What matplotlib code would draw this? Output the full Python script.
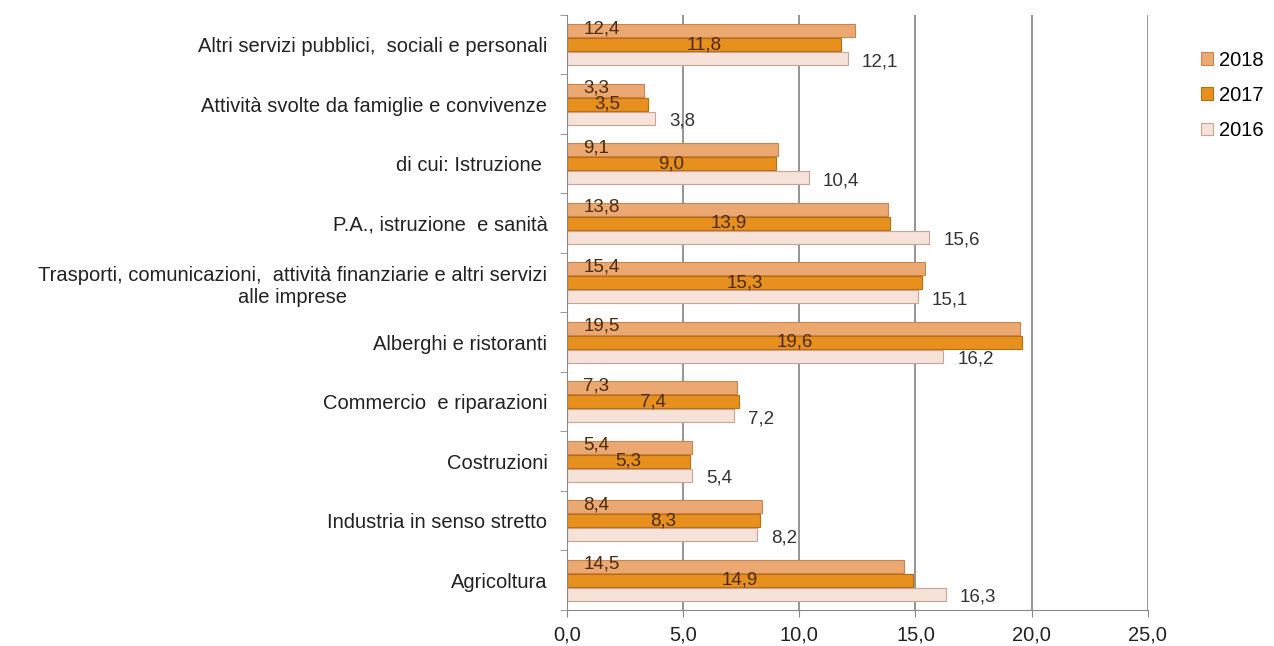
import matplotlib.pyplot as plt
import numpy as np

# settori, dall'alto verso il basso come nel grafico
settori = ['Altri servizi pubblici,  sociali e personali',
           'Attività svolte da famiglie e convivenze',
           'di cui: Istruzione ',
           'P.A., istruzione  e sanità',
           'Trasporti, comunicazioni,  attività finanziarie e altri servizi\nalle imprese',
           'Alberghi e ristoranti',
           'Commercio  e riparazioni',
           'Costruzioni',
           'Industria in senso stretto',
           'Agricoltura']
v2018 = [12.4, 3.3, 9.1, 13.8, 15.4, 19.5, 7.3, 5.4, 8.4, 14.5]
v2017 = [11.8, 3.5, 9.0, 13.9, 15.3, 19.6, 7.4, 5.3, 8.3, 14.9]
v2016 = [12.1, 3.8, 10.4, 15.6, 15.1, 16.2, 7.2, 5.4, 8.2, 16.3]
xticks = [0, 5, 10, 15, 20, 25]

def fmt(v):
    return ('%.1f' % v).replace('.', ',')

plt.rcParams['font.family'] = ['Liberation Sans', 'DejaVu Sans']
FS = 14.5
FL = 13.5   # etichette dati

fig = plt.figure(figsize=(12.74, 6.46), dpi=100)
ax = fig.add_axes([0.445, 0.056, 0.456, 0.921])

n = len(settori)
y = np.arange(n)[::-1]   # Agricoltura in basso
h = 0.22
off = 0.235

b18 = ax.barh(y + off, v2018, height=h, color='#EBA871', edgecolor='#C98550', linewidth=0.8, label='2018')
b17 = ax.barh(y, v2017, height=h, color='#E8901E', edgecolor='#B86D12', linewidth=0.8, label='2017')
b16 = ax.barh(y - off, v2016, height=h, color='#F6E2D8', edgecolor='#C9A394', linewidth=0.8, label='2016')

for yi, v in zip(y, v2018):
    ax.text(0.7, yi + off + 0.03, fmt(v), va='center', ha='left', fontsize=FL, color='#4A2A0A')
for yi, v in zip(y, v2017):
    ax.text(v / 2, yi + 0.0, fmt(v), va='center', ha='center', fontsize=FL, color='#4A2A0A')
for yi, v in zip(y, v2016):
    ax.text(v + 0.6, yi - off - 0.05, fmt(v), va='center', ha='left', fontsize=FL, color='#333333')

ax.set_xlim(0, 25)
ax.set_ylim(-0.5, n - 0.5)
ax.set_xticks(xticks)
ax.set_xticklabels([fmt(t) for t in xticks], fontsize=FS, color='#222222')
ax.set_yticks(y)
ax.set_yticklabels(settori, fontsize=FS, color='#222222', multialignment='center')
ax.set_yticks(np.arange(n + 1) - 0.5, minor=True)
ax.tick_params(axis='y', which='major', length=0, pad=14)
ax.tick_params(axis='y', which='minor', length=5, color='#888888')
ax.tick_params(axis='x', length=5, color='#888888', pad=6)

ax.grid(axis='x', color='#8C8C8C', linewidth=1.3)
ax.set_axisbelow(True)
for s in ['top', 'right']:
    ax.spines[s].set_visible(False)
ax.spines['left'].set_color('#888888')
ax.spines['bottom'].set_color('#888888')

ax.legend(handles=[b18, b17, b16], loc='upper left', bbox_to_anchor=(1.06, 0.97),
          frameon=False, fontsize=FS, handlelength=0.6, handleheight=0.6,
          handletextpad=0.3, labelspacing=0.8)

fig.savefig('out.png', dpi=100)
